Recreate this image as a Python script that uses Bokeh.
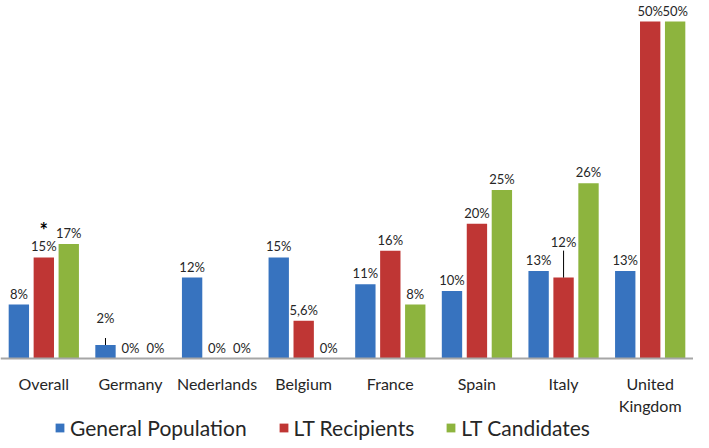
from bokeh.plotting import figure
from bokeh.models import ColumnDataSource, FactorRange, Legend, LegendItem, Range1d
from bokeh.transform import dodge
from bokeh.embed import file_html
from bokeh.resources import INLINE
from bokeh.core.properties import value

# ---- data ----
categories = ["Overall", "Germany", "Nederlands", "Belgium", "France", "Spain", "Italy", "United\nKingdom"]
general_population = [8, 2, 12, 15, 11, 10, 13, 13]
lt_recipients = [15, 0, 0, 5.6, 16, 20, 12, 50]
lt_candidates = [17, 0, 0, 0, 8, 25, 26, 50]
gp_labels = ["8%", "2%", "12%", "15%", "11%", "10%", "13%", "13%"]
rec_labels = ["15%", "0%", "0%", "5,6%", "16%", "20%", "12%", "50%"]
cand_labels = ["17%", "0%", "0%", "0%", "8%", "25%", "26%", "50%"]
series_names = ["General Population", "LT Recipients", "LT Candidates"]
note_category = ["Overall"]
note_text = ["*"]

# ---- styling ----
colors = ["#3773BF", "#BF3634", "#8DB43E"]
FONT = "Lato"
TXT = "#262626"
BAR_W = 0.235
STEP = 0.288
FIG_H = 440
BASE_PX = 358          # frame pixel row of the zero line
TOP_PX = 21            # frame pixel row of the 50% bar tops
PX_PER_UNIT = (BASE_PX - TOP_PX) / 50.0
Y_END = BASE_PX / PX_PER_UNIT
Y_START = -(FIG_H - BASE_PX) / PX_PER_UNIT

# extra lift of labels (in px) where the original uses leader lines
lift_gp = [16 if c == "Germany" else 0 for c in categories]
lift_rec = [25 if c == "Italy" else 0 for c in categories]

src = ColumnDataSource(dict(
    cat=categories,
    gp=general_population, rec=lt_recipients, cand=lt_candidates,
    gp_lab=gp_labels, rec_lab=rec_labels, cand_lab=cand_labels,
    gp_off=[-3 - l for l in lift_gp], rec_off=[-3 - l for l in lift_rec],
    cand_off=[-3] * len(categories),
))

p = figure(
    width=693, height=FIG_H,
    x_range=FactorRange(*categories, range_padding=0),
    y_range=Range1d(Y_START, Y_END),
    output_backend="svg", toolbar_location=None,
    y_axis_location=None,
    min_border_left=0, min_border_right=0, min_border_top=0, min_border_bottom=0,
)
p.outline_line_color = None
p.xgrid.grid_line_color = None
p.ygrid.grid_line_color = None
p.background_fill_color = "white"

renderers = []
for key, off, col in zip(["gp", "rec", "cand"], [-STEP, 0, STEP], colors):
    r = p.vbar(x=dodge("cat", off, range=p.x_range), top=key, bottom=0, width=BAR_W,
               source=src, fill_color=col, line_color=None)
    renderers.append(r)

for key, lab, yoff, off in zip(["gp", "rec", "cand"], ["gp_lab", "rec_lab", "cand_lab"],
                               ["gp_off", "rec_off", "cand_off"], [-STEP, 0, STEP]):
    p.text(x=dodge("cat", off, range=p.x_range), y=key, text=lab, y_offset=yoff,
           source=src, text_align="center", text_baseline="bottom",
           text_font=value(FONT), text_font_size="13px", text_color=TXT)

# leader lines (Germany general population, Italy recipients)
g_i = categories.index("Germany")
i_i = categories.index("Italy")
p.segment(x0=dodge("cat", -STEP, range=p.x_range), y0="y0", x1=dodge("cat", -STEP, range=p.x_range), y1="y1",
          source=ColumnDataSource(dict(cat=[categories[g_i]], y0=[general_population[g_i]],
                                       y1=[general_population[g_i] + 7 / PX_PER_UNIT])),
          line_color="#000000", line_width=1)
p.segment(x0=dodge("cat", 0, range=p.x_range), y0="y0", x1=dodge("cat", 0, range=p.x_range), y1="y1",
          source=ColumnDataSource(dict(cat=[categories[i_i]], y0=[lt_recipients[i_i]],
                                       y1=[lt_recipients[i_i] + 27 / PX_PER_UNIT])),
          line_color="#000000", line_width=1)

# asterisk note above Overall recipients label
note_src = ColumnDataSource(dict(cat=note_category,
                                 y=[lt_recipients[categories.index(c)] for c in note_category],
                                 t=note_text))
p.text(x=dodge("cat", 0, range=p.x_range), y="y", text="t", y_offset=-15, source=note_src,
       text_align="center", text_baseline="bottom", text_font=value(FONT),
       text_font_size="20px", text_font_style="bold", text_color="#000000")

ax = p.xaxis[0]
ax.fixed_location = 0
ax.axis_line_color = "#A6A6A6"
ax.axis_line_width = 2
ax.major_tick_line_color = None
ax.minor_tick_line_color = None
ax.major_label_standoff = 9
ax.major_label_text_font = FONT
ax.major_label_text_font_size = "16px"
ax.major_label_text_color = TXT

legend = Legend(
    items=[LegendItem(label=n, renderers=[r]) for n, r in zip(series_names, renderers)],
    orientation="horizontal", location=(54, 0),
    label_text_font=FONT, label_text_font_size="21px", label_text_color=TXT,
    glyph_width=11, glyph_height=11, label_height=11, spacing=31, padding=0, margin=0,
    border_line_color=None, background_fill_alpha=0, label_standoff=5,
)
p.add_layout(legend, "center")

open("out.html", "w").write(file_html(p, INLINE))
